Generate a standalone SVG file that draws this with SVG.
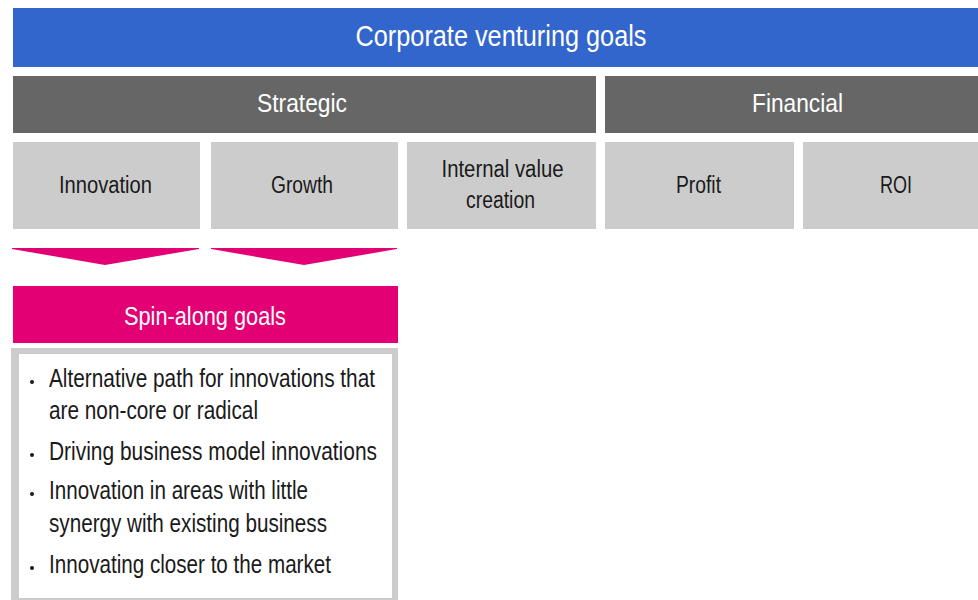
<svg xmlns="http://www.w3.org/2000/svg" width="978" height="600" viewBox="0 0 978 600">
<style>
text{font-family:'Liberation Sans',Arial,sans-serif;}
.blue{fill:#3366CC;}
.dark{fill:#666666;}
.light{fill:#CCCCCC;}
.pink{fill:#E20074;}
.wt{fill:#FFFFFF;text-anchor:middle;}
.bt{fill:#1A1A1A;text-anchor:middle;font-size:23px;}
.li{fill:#1A1A1A;font-size:25px;}
.dot{fill:#1A1A1A;}
</style>
<g id="title">
<rect class="blue" x="13" y="8" width="977" height="59"/>
<text class="wt" x="501" y="46" font-size="29" textLength="291" lengthAdjust="spacingAndGlyphs">Corporate venturing goals</text>
</g>
<g id="strategic">
<rect class="dark" x="13" y="76" width="583" height="57"/>
<text class="wt" x="302" y="112" font-size="26.5" textLength="90" lengthAdjust="spacingAndGlyphs">Strategic</text>
</g>
<g id="financial">
<rect class="dark" x="605" y="76" width="387" height="57"/>
<text class="wt" x="797.5" y="112" font-size="26.5" textLength="91" lengthAdjust="spacingAndGlyphs">Financial</text>
</g>
<g id="innovation">
<rect class="light" x="13" y="142" width="187" height="87"/>
<text class="bt" x="105.5" y="193" textLength="93" lengthAdjust="spacingAndGlyphs">Innovation</text>
</g>
<g id="growth">
<rect class="light" x="211" y="142" width="187" height="87"/>
<text class="bt" x="302" y="193" textLength="62" lengthAdjust="spacingAndGlyphs">Growth</text>
</g>
<g id="internal">
<rect class="light" x="407" y="142" width="189" height="87"/>
<text class="bt" x="502.5" y="177" textLength="122" lengthAdjust="spacingAndGlyphs">Internal value</text>
<text class="bt" x="500.5" y="208" textLength="69" lengthAdjust="spacingAndGlyphs">creation</text>
</g>
<g id="profit">
<rect class="light" x="605" y="142" width="189" height="87"/>
<text class="bt" x="698.5" y="193" textLength="45" lengthAdjust="spacingAndGlyphs">Profit</text>
</g>
<g id="roi">
<rect class="light" x="803" y="142" width="189" height="87"/>
<text class="bt" x="896" y="193" textLength="32" lengthAdjust="spacingAndGlyphs">ROI</text>
</g>
<g id="connectors">
<polygon class="pink" points="12,248 199,248 199,249 105,265 12,249"/>
<polygon class="pink" points="211,248 397,248 397,249 304,265 211,249"/>
</g>
<g id="spinalong">
<rect class="pink" x="13" y="286" width="385" height="57"/>
<text class="wt" x="205" y="325" font-size="26" textLength="162" lengthAdjust="spacingAndGlyphs">Spin-along goals</text>
</g>
<g id="goals-list">
<rect class="light" x="11" y="348" width="387" height="252"/>
<rect fill="#FFFFFF" x="19" y="354" width="373" height="244"/>
<circle class="dot" cx="32" cy="382" r="2"/>
<circle class="dot" cx="32" cy="455" r="2"/>
<circle class="dot" cx="32" cy="494" r="2"/>
<circle class="dot" cx="32" cy="568" r="2"/>
<text class="li" x="49" y="387" textLength="326" lengthAdjust="spacingAndGlyphs">Alternative path for innovations that</text>
<text class="li" x="49" y="419" textLength="209" lengthAdjust="spacingAndGlyphs">are non-core or radical</text>
<text class="li" x="49" y="460" textLength="328" lengthAdjust="spacingAndGlyphs">Driving business model innovations</text>
<text class="li" x="49" y="499" textLength="259" lengthAdjust="spacingAndGlyphs">Innovation in areas with little</text>
<text class="li" x="49" y="532" textLength="278" lengthAdjust="spacingAndGlyphs">synergy with existing business</text>
<text class="li" x="49" y="573" textLength="282" lengthAdjust="spacingAndGlyphs">Innovating closer to the market</text>
</g>
</svg>
